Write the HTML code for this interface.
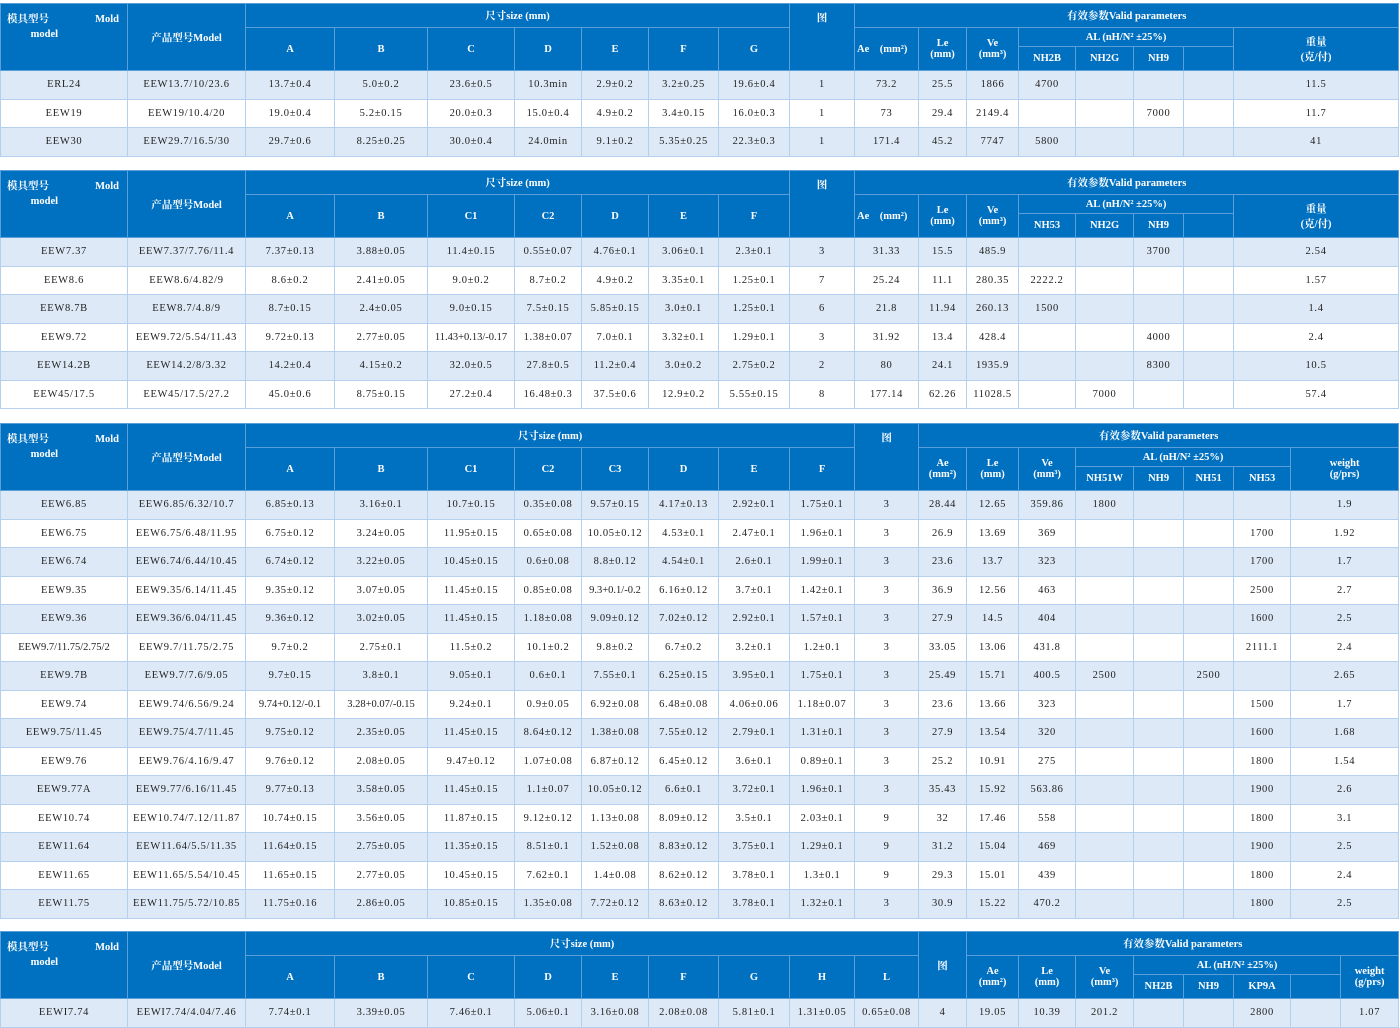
<!DOCTYPE html>
<html><head><meta charset="utf-8">
<style>
html,body{margin:0;padding:0;background:#fff;width:1400px;height:1028px;overflow:hidden;position:relative}
table{position:absolute;left:0;border-collapse:collapse;table-layout:fixed;width:1399px;font-family:"Liberation Serif","Noto Serif CJK SC",serif}
td,th{border:1px solid #b3d0ee;text-align:center;font-size:10.5px;padding:0;white-space:nowrap;overflow:hidden;color:#222}
td{letter-spacing:0.7px}
th{background:#0070c0;color:#fff;border-color:#5a9fd8;font-weight:bold;font-size:10.5px}
tr.h1{height:24px}tr.h2{height:19px}tr.h3{height:24px}
tr.d{height:28.5px}
tr.o td{background:#dde9f6}
th.mold{text-align:left;vertical-align:top;padding:8px 4px 0 6px;line-height:15px}
th.mold span{float:right;margin-right:4px}
th.ae{text-align:left;padding-left:2px}
</style></head><body>

<table style="top:3px">
<colgroup><col style="width:127px"><col style="width:118px"><col style="width:89px"><col style="width:93px"><col style="width:87px"><col style="width:67px"><col style="width:67px"><col style="width:70px"><col style="width:71px"><col style="width:65px"><col style="width:64px"><col style="width:48px"><col style="width:52px"><col style="width:57px"><col style="width:58px"><col style="width:50px"><col style="width:50px"><col style="width:165px"></colgroup>
<tr class="h1"><th rowspan="3" class="mold">模具型号<span>Mold</span><br>&nbsp;&nbsp;&nbsp;&nbsp;&nbsp;&nbsp;&nbsp;&nbsp;&nbsp;model</th><th rowspan="3">产品型号Model</th><th colspan="7">尺寸size (mm)</th><th rowspan="3" style="vertical-align:top;padding-top:6px">图</th><th colspan="8">有效参数Valid parameters</th></tr>
<tr class="h2"><th rowspan="2">A</th><th rowspan="2">B</th><th rowspan="2">C</th><th rowspan="2">D</th><th rowspan="2">E</th><th rowspan="2">F</th><th rowspan="2">G</th><th rowspan="2" class="ae">Ae &nbsp;&nbsp;&nbsp;(mm²)</th><th rowspan="2">Le<br>(mm)</th><th rowspan="2">Ve<br>(mm³)</th><th colspan="4">AL (nH/N² ±25%)</th><th rowspan="2">重量<br>(克/付)</th></tr>
<tr class="h3"><th>NH2B</th><th>NH2G</th><th>NH9</th><th></th></tr>
<tr class="d o"><td>ERL24</td><td>EEW13.7/10/23.6</td><td>13.7±0.4</td><td>5.0±0.2</td><td>23.6±0.5</td><td>10.3min</td><td>2.9±0.2</td><td>3.2±0.25</td><td>19.6±0.4</td><td>1</td><td>73.2</td><td>25.5</td><td>1866</td><td>4700</td><td></td><td></td><td></td><td>11.5</td></tr>
<tr class="d"><td>EEW19</td><td>EEW19/10.4/20</td><td>19.0±0.4</td><td>5.2±0.15</td><td>20.0±0.3</td><td>15.0±0.4</td><td>4.9±0.2</td><td>3.4±0.15</td><td>16.0±0.3</td><td>1</td><td>73</td><td>29.4</td><td>2149.4</td><td></td><td></td><td>7000</td><td></td><td>11.7</td></tr>
<tr class="d o"><td>EEW30</td><td>EEW29.7/16.5/30</td><td>29.7±0.6</td><td>8.25±0.25</td><td>30.0±0.4</td><td>24.0min</td><td>9.1±0.2</td><td>5.35±0.25</td><td>22.3±0.3</td><td>1</td><td>171.4</td><td>45.2</td><td>7747</td><td>5800</td><td></td><td></td><td></td><td>41</td></tr>
</table>

<table style="top:170px">
<colgroup><col style="width:127px"><col style="width:118px"><col style="width:89px"><col style="width:93px"><col style="width:87px"><col style="width:67px"><col style="width:67px"><col style="width:70px"><col style="width:71px"><col style="width:65px"><col style="width:64px"><col style="width:48px"><col style="width:52px"><col style="width:57px"><col style="width:58px"><col style="width:50px"><col style="width:50px"><col style="width:165px"></colgroup>
<tr class="h1"><th rowspan="3" class="mold">模具型号<span>Mold</span><br>&nbsp;&nbsp;&nbsp;&nbsp;&nbsp;&nbsp;&nbsp;&nbsp;&nbsp;model</th><th rowspan="3">产品型号Model</th><th colspan="7">尺寸size (mm)</th><th rowspan="3" style="vertical-align:top;padding-top:6px">图</th><th colspan="8">有效参数Valid parameters</th></tr>
<tr class="h2"><th rowspan="2">A</th><th rowspan="2">B</th><th rowspan="2">C1</th><th rowspan="2">C2</th><th rowspan="2">D</th><th rowspan="2">E</th><th rowspan="2">F</th><th rowspan="2" class="ae">Ae &nbsp;&nbsp;&nbsp;(mm²)</th><th rowspan="2">Le<br>(mm)</th><th rowspan="2">Ve<br>(mm³)</th><th colspan="4">AL (nH/N² ±25%)</th><th rowspan="2">重量<br>(克/付)</th></tr>
<tr class="h3"><th>NH53</th><th>NH2G</th><th>NH9</th><th></th></tr>
<tr class="d o"><td>EEW7.37</td><td>EEW7.37/7.76/11.4</td><td>7.37±0.13</td><td>3.88±0.05</td><td>11.4±0.15</td><td>0.55±0.07</td><td>4.76±0.1</td><td>3.06±0.1</td><td>2.3±0.1</td><td>3</td><td>31.33</td><td>15.5</td><td>485.9</td><td></td><td></td><td>3700</td><td></td><td>2.54</td></tr>
<tr class="d"><td>EEW8.6</td><td>EEW8.6/4.82/9</td><td>8.6±0.2</td><td>2.41±0.05</td><td>9.0±0.2</td><td>8.7±0.2</td><td>4.9±0.2</td><td>3.35±0.1</td><td>1.25±0.1</td><td>7</td><td>25.24</td><td>11.1</td><td>280.35</td><td>2222.2</td><td></td><td></td><td></td><td>1.57</td></tr>
<tr class="d o"><td>EEW8.7B</td><td>EEW8.7/4.8/9</td><td>8.7±0.15</td><td>2.4±0.05</td><td>9.0±0.15</td><td>7.5±0.15</td><td>5.85±0.15</td><td>3.0±0.1</td><td>1.25±0.1</td><td>6</td><td>21.8</td><td>11.94</td><td>260.13</td><td>1500</td><td></td><td></td><td></td><td>1.4</td></tr>
<tr class="d"><td>EEW9.72</td><td>EEW9.72/5.54/11.43</td><td>9.72±0.13</td><td>2.77±0.05</td><td style="letter-spacing:0">11.43+0.13/-0.17</td><td>1.38±0.07</td><td>7.0±0.1</td><td>3.32±0.1</td><td>1.29±0.1</td><td>3</td><td>31.92</td><td>13.4</td><td>428.4</td><td></td><td></td><td>4000</td><td></td><td>2.4</td></tr>
<tr class="d o"><td>EEW14.2B</td><td>EEW14.2/8/3.32</td><td>14.2±0.4</td><td>4.15±0.2</td><td>32.0±0.5</td><td>27.8±0.5</td><td>11.2±0.4</td><td>3.0±0.2</td><td>2.75±0.2</td><td>2</td><td>80</td><td>24.1</td><td>1935.9</td><td></td><td></td><td>8300</td><td></td><td>10.5</td></tr>
<tr class="d"><td>EEW45/17.5</td><td>EEW45/17.5/27.2</td><td>45.0±0.6</td><td>8.75±0.15</td><td>27.2±0.4</td><td>16.48±0.3</td><td>37.5±0.6</td><td>12.9±0.2</td><td>5.55±0.15</td><td>8</td><td>177.14</td><td>62.26</td><td>11028.5</td><td></td><td>7000</td><td></td><td></td><td>57.4</td></tr>
</table>

<table style="top:423px">
<colgroup><col style="width:127px"><col style="width:118px"><col style="width:89px"><col style="width:93px"><col style="width:87px"><col style="width:67px"><col style="width:67px"><col style="width:70px"><col style="width:71px"><col style="width:65px"><col style="width:64px"><col style="width:48px"><col style="width:52px"><col style="width:57px"><col style="width:58px"><col style="width:50px"><col style="width:50px"><col style="width:57px"><col style="width:108px"></colgroup>
<tr class="h1"><th rowspan="3" class="mold">模具型号<span>Mold</span><br>&nbsp;&nbsp;&nbsp;&nbsp;&nbsp;&nbsp;&nbsp;&nbsp;&nbsp;model</th><th rowspan="3">产品型号Model</th><th colspan="8">尺寸size (mm)</th><th rowspan="3" style="vertical-align:top;padding-top:6px">图</th><th colspan="8">有效参数Valid parameters</th></tr>
<tr class="h2"><th rowspan="2">A</th><th rowspan="2">B</th><th rowspan="2">C1</th><th rowspan="2">C2</th><th rowspan="2">C3</th><th rowspan="2">D</th><th rowspan="2">E</th><th rowspan="2">F</th><th rowspan="2">Ae<br>(mm²)</th><th rowspan="2">Le<br>(mm)</th><th rowspan="2">Ve<br>(mm³)</th><th colspan="4">AL (nH/N² ±25%)</th><th rowspan="2">weight<br>(g/prs)</th></tr>
<tr class="h3"><th>NH51W</th><th>NH9</th><th>NH51</th><th>NH53</th></tr>
<tr class="d o"><td>EEW6.85</td><td>EEW6.85/6.32/10.7</td><td>6.85±0.13</td><td>3.16±0.1</td><td>10.7±0.15</td><td>0.35±0.08</td><td>9.57±0.15</td><td>4.17±0.13</td><td>2.92±0.1</td><td>1.75±0.1</td><td>3</td><td>28.44</td><td>12.65</td><td>359.86</td><td>1800</td><td></td><td></td><td></td><td>1.9</td></tr>
<tr class="d"><td>EEW6.75</td><td>EEW6.75/6.48/11.95</td><td>6.75±0.12</td><td>3.24±0.05</td><td>11.95±0.15</td><td>0.65±0.08</td><td>10.05±0.12</td><td>4.53±0.1</td><td>2.47±0.1</td><td>1.96±0.1</td><td>3</td><td>26.9</td><td>13.69</td><td>369</td><td></td><td></td><td></td><td>1700</td><td>1.92</td></tr>
<tr class="d o"><td>EEW6.74</td><td>EEW6.74/6.44/10.45</td><td>6.74±0.12</td><td>3.22±0.05</td><td>10.45±0.15</td><td>0.6±0.08</td><td>8.8±0.12</td><td>4.54±0.1</td><td>2.6±0.1</td><td>1.99±0.1</td><td>3</td><td>23.6</td><td>13.7</td><td>323</td><td></td><td></td><td></td><td>1700</td><td>1.7</td></tr>
<tr class="d"><td>EEW9.35</td><td>EEW9.35/6.14/11.45</td><td>9.35±0.12</td><td>3.07±0.05</td><td>11.45±0.15</td><td>0.85±0.08</td><td style="letter-spacing:0">9.3+0.1/-0.2</td><td>6.16±0.12</td><td>3.7±0.1</td><td>1.42±0.1</td><td>3</td><td>36.9</td><td>12.56</td><td>463</td><td></td><td></td><td></td><td>2500</td><td>2.7</td></tr>
<tr class="d o"><td>EEW9.36</td><td>EEW9.36/6.04/11.45</td><td>9.36±0.12</td><td>3.02±0.05</td><td>11.45±0.15</td><td>1.18±0.08</td><td>9.09±0.12</td><td>7.02±0.12</td><td>2.92±0.1</td><td>1.57±0.1</td><td>3</td><td>27.9</td><td>14.5</td><td>404</td><td></td><td></td><td></td><td>1600</td><td>2.5</td></tr>
<tr class="d"><td style="letter-spacing:0">EEW9.7/11.75/2.75/2</td><td>EEW9.7/11.75/2.75</td><td>9.7±0.2</td><td>2.75±0.1</td><td>11.5±0.2</td><td>10.1±0.2</td><td>9.8±0.2</td><td>6.7±0.2</td><td>3.2±0.1</td><td>1.2±0.1</td><td>3</td><td>33.05</td><td>13.06</td><td>431.8</td><td></td><td></td><td></td><td>2111.1</td><td>2.4</td></tr>
<tr class="d o"><td>EEW9.7B</td><td>EEW9.7/7.6/9.05</td><td>9.7±0.15</td><td>3.8±0.1</td><td>9.05±0.1</td><td>0.6±0.1</td><td>7.55±0.1</td><td>6.25±0.15</td><td>3.95±0.1</td><td>1.75±0.1</td><td>3</td><td>25.49</td><td>15.71</td><td>400.5</td><td>2500</td><td></td><td>2500</td><td></td><td>2.65</td></tr>
<tr class="d"><td>EEW9.74</td><td>EEW9.74/6.56/9.24</td><td style="letter-spacing:0">9.74+0.12/-0.1</td><td style="letter-spacing:0">3.28+0.07/-0.15</td><td>9.24±0.1</td><td>0.9±0.05</td><td>6.92±0.08</td><td>6.48±0.08</td><td>4.06±0.06</td><td>1.18±0.07</td><td>3</td><td>23.6</td><td>13.66</td><td>323</td><td></td><td></td><td></td><td>1500</td><td>1.7</td></tr>
<tr class="d o"><td>EEW9.75/11.45</td><td>EEW9.75/4.7/11.45</td><td>9.75±0.12</td><td>2.35±0.05</td><td>11.45±0.15</td><td>8.64±0.12</td><td>1.38±0.08</td><td>7.55±0.12</td><td>2.79±0.1</td><td>1.31±0.1</td><td>3</td><td>27.9</td><td>13.54</td><td>320</td><td></td><td></td><td></td><td>1600</td><td>1.68</td></tr>
<tr class="d"><td>EEW9.76</td><td>EEW9.76/4.16/9.47</td><td>9.76±0.12</td><td>2.08±0.05</td><td>9.47±0.12</td><td>1.07±0.08</td><td>6.87±0.12</td><td>6.45±0.12</td><td>3.6±0.1</td><td>0.89±0.1</td><td>3</td><td>25.2</td><td>10.91</td><td>275</td><td></td><td></td><td></td><td>1800</td><td>1.54</td></tr>
<tr class="d o"><td>EEW9.77A</td><td>EEW9.77/6.16/11.45</td><td>9.77±0.13</td><td>3.58±0.05</td><td>11.45±0.15</td><td>1.1±0.07</td><td>10.05±0.12</td><td>6.6±0.1</td><td>3.72±0.1</td><td>1.96±0.1</td><td>3</td><td>35.43</td><td>15.92</td><td>563.86</td><td></td><td></td><td></td><td>1900</td><td>2.6</td></tr>
<tr class="d"><td>EEW10.74</td><td>EEW10.74/7.12/11.87</td><td>10.74±0.15</td><td>3.56±0.05</td><td>11.87±0.15</td><td>9.12±0.12</td><td>1.13±0.08</td><td>8.09±0.12</td><td>3.5±0.1</td><td>2.03±0.1</td><td>9</td><td>32</td><td>17.46</td><td>558</td><td></td><td></td><td></td><td>1800</td><td>3.1</td></tr>
<tr class="d o"><td>EEW11.64</td><td>EEW11.64/5.5/11.35</td><td>11.64±0.15</td><td>2.75±0.05</td><td>11.35±0.15</td><td>8.51±0.1</td><td>1.52±0.08</td><td>8.83±0.12</td><td>3.75±0.1</td><td>1.29±0.1</td><td>9</td><td>31.2</td><td>15.04</td><td>469</td><td></td><td></td><td></td><td>1900</td><td>2.5</td></tr>
<tr class="d"><td>EEW11.65</td><td>EEW11.65/5.54/10.45</td><td>11.65±0.15</td><td>2.77±0.05</td><td>10.45±0.15</td><td>7.62±0.1</td><td>1.4±0.08</td><td>8.62±0.12</td><td>3.78±0.1</td><td>1.3±0.1</td><td>9</td><td>29.3</td><td>15.01</td><td>439</td><td></td><td></td><td></td><td>1800</td><td>2.4</td></tr>
<tr class="d o"><td>EEW11.75</td><td>EEW11.75/5.72/10.85</td><td>11.75±0.16</td><td>2.86±0.05</td><td>10.85±0.15</td><td>1.35±0.08</td><td>7.72±0.12</td><td>8.63±0.12</td><td>3.78±0.1</td><td>1.32±0.1</td><td>3</td><td>30.9</td><td>15.22</td><td>470.2</td><td></td><td></td><td></td><td>1800</td><td>2.5</td></tr>
</table>

<table style="top:931px">
<colgroup><col style="width:127px"><col style="width:118px"><col style="width:89px"><col style="width:93px"><col style="width:87px"><col style="width:67px"><col style="width:67px"><col style="width:70px"><col style="width:71px"><col style="width:65px"><col style="width:64px"><col style="width:48px"><col style="width:52px"><col style="width:57px"><col style="width:58px"><col style="width:50px"><col style="width:50px"><col style="width:57px"><col style="width:50px"><col style="width:58px"></colgroup>
<tr class="h1"><th rowspan="3" class="mold">模具型号<span>Mold</span><br>&nbsp;&nbsp;&nbsp;&nbsp;&nbsp;&nbsp;&nbsp;&nbsp;&nbsp;model</th><th rowspan="3">产品型号Model</th><th colspan="9">尺寸size (mm)</th><th rowspan="3">图</th><th colspan="8">有效参数Valid parameters</th></tr>
<tr class="h2"><th rowspan="2">A</th><th rowspan="2">B</th><th rowspan="2">C</th><th rowspan="2">D</th><th rowspan="2">E</th><th rowspan="2">F</th><th rowspan="2">G</th><th rowspan="2">H</th><th rowspan="2">L</th><th rowspan="2">Ae<br>(mm²)</th><th rowspan="2">Le<br>(mm)</th><th rowspan="2">Ve<br>(mm³)</th><th colspan="4">AL (nH/N² ±25%)</th><th rowspan="2">weight<br>(g/prs)</th></tr>
<tr class="h3"><th>NH2B</th><th>NH9</th><th>KP9A</th><th></th></tr>
<tr class="d o"><td>EEWI7.74</td><td>EEWI7.74/4.04/7.46</td><td>7.74±0.1</td><td>3.39±0.05</td><td>7.46±0.1</td><td>5.06±0.1</td><td>3.16±0.08</td><td>2.08±0.08</td><td>5.81±0.1</td><td>1.31±0.05</td><td>0.65±0.08</td><td>4</td><td>19.05</td><td>10.39</td><td>201.2</td><td></td><td></td><td>2800</td><td></td><td>1.07</td></tr>
</table>

</body></html>
